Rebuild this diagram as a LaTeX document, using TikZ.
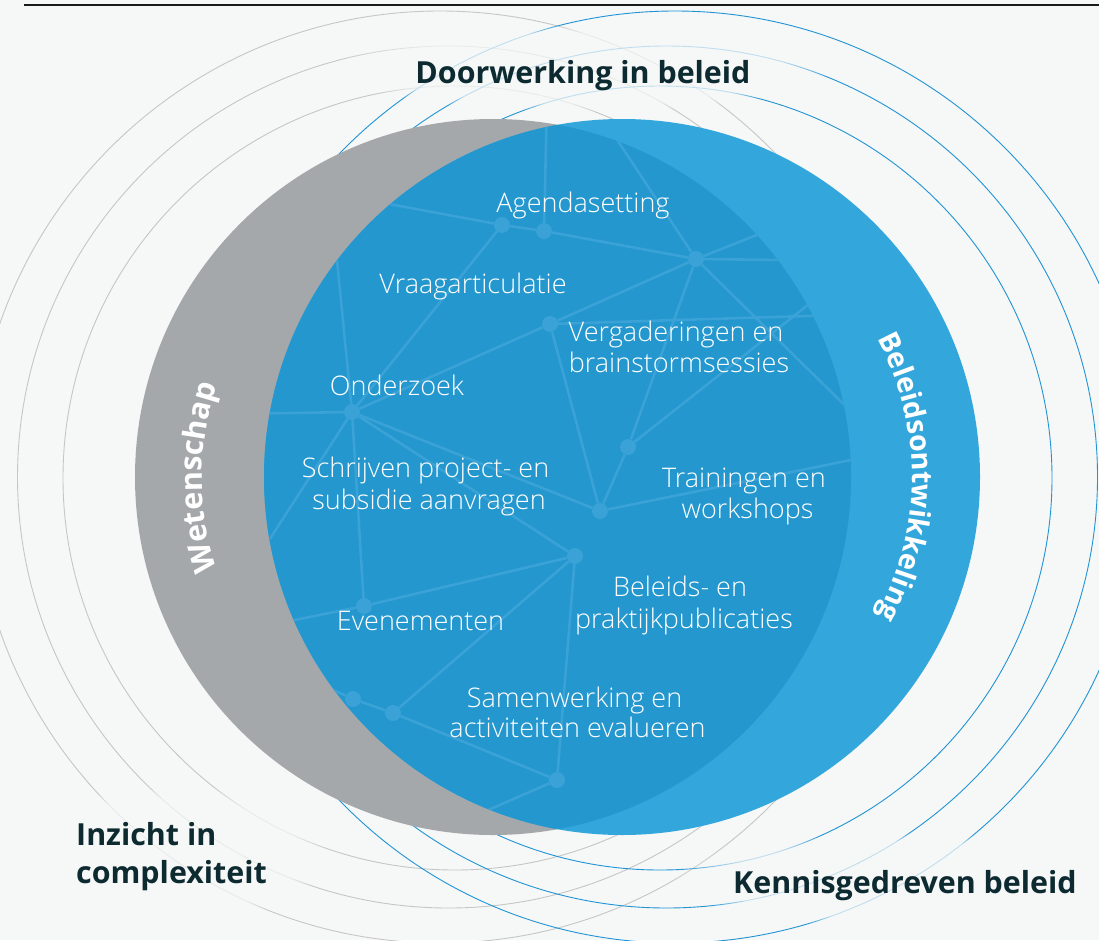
\documentclass[tikz,border=0pt]{standalone}
\usepackage{fontspec}
\setmainfont{Open Sans}
\IfFontExistsTF{Open Sans Light}{\newfontfamily\lightfont{Open Sans Light}}{\newfontfamily\lightfont{Open Sans}}
\usetikzlibrary{decorations.text,fadings}
\definecolor{bgc}{HTML}{F6F7F7}
\definecolor{grayd}{HTML}{A5A8AB}
\definecolor{blued}{HTML}{33A7DC}
\definecolor{lensc}{HTML}{2397CE}
\definecolor{netc}{HTML}{3AA2D6}
\definecolor{headc}{HTML}{0C2A30}
\definecolor{ringgray}{HTML}{C6C6C6}
\definecolor{ringblue}{HTML}{2094D4}
\tikzset{
  gring/.style={draw=ringgray, line width=0.9pt},
  bring/.style={draw=ringblue, line width=0.9pt},
  link/.style={draw=netc, line width=2.6pt},
  dot/.style={circle, fill=netc, inner sep=0pt, minimum size=16pt},
  lbl/.style={text=white, font=\lightfont\fontsize{27}{31}\selectfont, inner sep=0pt, anchor=base},
  head/.style={text=headc, font=\bfseries\fontsize{30.4}{38}\selectfont, inner sep=0pt},
  topline/.style={draw=black!90, line width=1.6pt},
  veil/.style={fill=bgc, fill opacity=0.75, path fading=circle with fuzzy edge 20 percent},
}
\begin{document}
\begin{tikzpicture}[x=1pt,y=1pt]
\useasboundingbox (0,0) rectangle (1099,-940);
\fill[bgc] (0,0) rectangle (1099,-940);
\draw[topline] (24,-5) -- (1099,-5);
% rings
\begin{scope}
\clip (0,0) rectangle (1099,-940);
\draw[gring] (440,-477) circle[radius=466];
\draw[gring] (448.5,-477) circle[radius=431];
\draw[gring] (455,-478) circle[radius=392];
\draw[bring] (675,-477) circle[radius=466];
\draw[bring] (666.5,-477) circle[radius=431];
\draw[bring] (660,-478) circle[radius=392];
\end{scope}
% veils near headings
\fill[veil] (583,-68) ellipse[x radius=250, y radius=44];
\fill[veil] (903,-880) ellipse[x radius=230, y radius=48];
\fill[veil] (170,-855) ellipse[x radius=160, y radius=70];
% disks
\fill[grayd] (493,-477) circle[radius=358];
\fill[blued] (622,-477) circle[radius=358];
\begin{scope}
\clip (493,-477) circle[radius=358];
\clip (622,-477) circle[radius=358];
\fill[lensc] (100,-80) rectangle (1000,-900);
\node[dot] (n1) at (502,-225) {};
\node[dot] (n2) at (544,-231) {};
\node[dot] (n3) at (696,-259) {};
\node[dot] (n4) at (550,-324) {};
\node[dot] (n5) at (352,-412) {};
\node[dot] (n6) at (628,-447) {};
\node[dot] (n7) at (600,-511) {};
\node[dot] (n8) at (575,-556) {};
\node[dot] (n9) at (364,-606) {};
\node[dot] (n10) at (353,-699) {};
\node[dot] (n11) at (393,-713) {};
\node[dot] (n12) at (557,-780) {};
\coordinate (f1) at (330,-193);
\coordinate (f2) at (547,-100);
\coordinate (f3) at (600,-114);
\coordinate (f4) at (820,-210);
\coordinate (f5) at (870,-261);
\coordinate (f6) at (880,-440);
\coordinate (f7) at (870,-314);
\coordinate (f8) at (880,-248);
\coordinate (f9) at (900,-450);
\coordinate (f10) at (230,-414);
\coordinate (f11) at (333,-220);
\coordinate (f12) at (240,-585);
\coordinate (f13) at (240,-631);
\coordinate (f14) at (300,-675);
\coordinate (f15) at (440,-831);
\draw[link] (n1) -- (f1);
\draw[link] (n1) -- (n2);
\draw[link] (n2) -- (n3);
\draw[link] (n2) -- (f2);
\draw[link] (n3) -- (f3);
\draw[link] (n3) -- (f4);
\draw[link] (n3) -- (f5);
\draw[link] (n3) -- (f6);
\draw[link] (n3) -- (n4);
\draw[link] (n3) -- (n6);
\draw[link] (n1) -- (n5);
\draw[link] (n4) -- (n5);
\draw[link] (n4) -- (n7);
\draw[link] (n4) -- (f7);
\draw[link] (n6) -- (n7);
\draw[link] (n6) -- (f8);
\draw[link] (n7) -- (f9);
\draw[link] (n5) -- (f10);
\draw[link] (n5) -- (f11);
\draw[link] (n5) -- (f12);
\draw[link] (n5) -- (n9);
\draw[link] (n5) -- (n7);
\draw[link] (n5) -- (n8);
\draw[link] (n8) -- (n9);
\draw[link] (n9) -- (f13);
\draw[link] (n8) -- (n11);
\draw[link] (n8) -- (n12);
\draw[link] (n10) -- (n11);
\draw[link] (n10) -- (f14);
\draw[link] (n11) -- (n12);
\draw[link] (n12) -- (f15);
\end{scope}
% curved titles
\path[decorate, decoration={text along path, text align=center, text color=white,
  text={|\bfseries\fontsize{30.5}{31}\selectfont|Wetenschap}}]
  (493,-477) ++(200:291) arc[start angle=200, end angle=160, radius=291];
\path[decorate, decoration={text along path, text align=center, text color=white,
  text={|\bfseries\fontsize{28.5}{31}\selectfont|Beleidsontwikkeling}}]
  (622,-477) ++(40:290) arc[start angle=40, end angle=-40, radius=290];
% headings
\node[head, anchor=base] (doorw) at (583,-83) {Doorwerking in beleid};
\node[head, anchor=base west] (inz1) at (76,-845) {Inzicht in};
\node[head, anchor=base west] (inz2) at (76,-883) {complexiteit};
\node[head, anchor=base west] (kenn) at (733,-893) {Kennisgedreven beleid};
% labels
\node[lbl] (agenda) at (583,-212) {Agendasetting};
\node[lbl] (vraag) at (473,-293) {Vraagarticulatie};
\node[lbl] (verg1) at (676,-341) {Vergaderingen en};
\node[lbl] (verg2) at (679,-372.5) {brainstormsessies};
\node[lbl] (onder) at (397,-395.5) {Onderzoek};
\node[lbl] (schr1) at (425.5,-477) {Schrijven project- en};
\node[lbl] (schr2) at (429,-509) {subsidie aanvragen};
\node[lbl] (train1) at (744,-487) {Trainingen en};
\node[lbl] (train2) at (747.5,-518.5) {workshops};
\node[lbl] (bel1) at (680,-596.5) {Beleids- en};
\node[lbl] (bel2) at (684,-628.5) {praktijkpublicaties};
\node[lbl] (even) at (420.5,-630.5) {Evenementen};
\node[lbl] (samen1) at (574.5,-707) {Samenwerking en};
\node[lbl] (samen2) at (577.5,-737.5) {activiteiten evalueren};
\end{tikzpicture}
\end{document}
